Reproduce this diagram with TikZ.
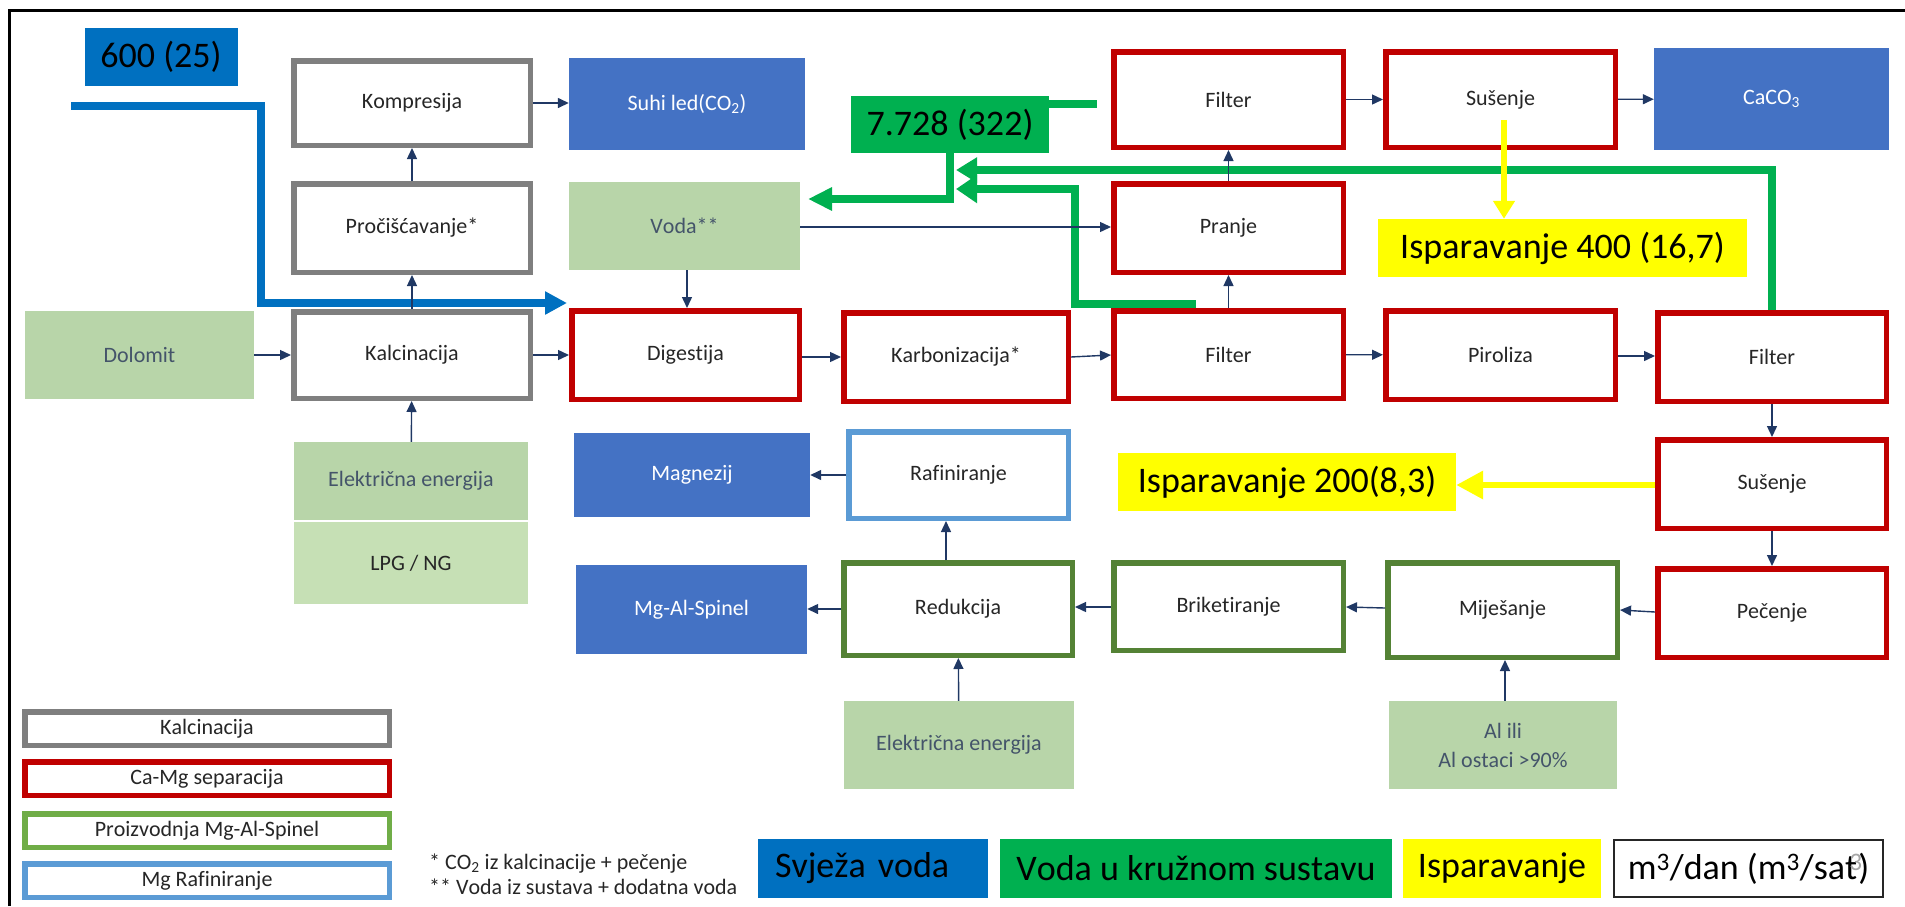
\documentclass[tikz,border=0pt]{standalone}
\usepackage{fontspec}
\setmainfont{Carlito}[Ligatures=NoCommon, Kerning=Off]
\usetikzlibrary{arrows.meta,calc}

\definecolor{cGray}{HTML}{7F7F7F}
\definecolor{cRed}{HTML}{C00000}
\definecolor{cOlive}{HTML}{548235}
\definecolor{cLeaf}{HTML}{70AD47}
\definecolor{cSky}{HTML}{5B9BD5}
\definecolor{cProd}{HTML}{4472C4}
\definecolor{cFeed}{HTML}{B8D5A9}
\definecolor{cFeedL}{HTML}{C6E0B5}
\definecolor{cFresh}{HTML}{0070C0}
\definecolor{cLoop}{HTML}{00B050}
\definecolor{cEvap}{HTML}{FFFF00}
\definecolor{cArrow}{HTML}{203864}
\definecolor{cTxt}{HTML}{262626}
\definecolor{cFeedTxt}{HTML}{44546A}

\tikzset{
  bx/.style 2 args={minimum width={(#1-5.5)*1pt}, minimum height={(#2-5.5)*1pt}},
  fb/.style 2 args={minimum width={#1*1pt}, minimum height={#2*1pt}},
  txt/.style={font=\fontsize{22}{26}\selectfont},
  big/.style={font=\fontsize{36}{40}\selectfont},
  stage/.style={draw, line width=5.5pt, fill=white, inner sep=2pt, align=center, text=cTxt, txt},
  kal/.style={stage, draw=cGray},
  casep/.style={stage, draw=cRed},
  spinel/.style={stage, draw=cOlive},
  raf/.style={stage, draw=cSky},
  product/.style={fill=cProd, text=white, inner sep=2pt, align=center, txt},
  feed/.style={fill=cFeed, text=cFeedTxt, inner sep=2pt, align=center, txt},
  qty/.style={inner sep=2pt, text=black, big},
  flow/.style={draw=cArrow, line width=1.4pt, -{Triangle[length=11pt,width=10pt]}},
  fresh/.style={draw=cFresh, line width=8pt},
  recirc/.style={draw=cLoop, line width=8pt},
  evap/.style={draw=cEvap, line width=6.5pt},
  keybox/.style={draw, line width=5.5pt, fill=white, inner sep=0pt, text=cTxt, txt, bx={370}{39}},
}

\begin{document}
\begin{tikzpicture}[x=1pt, y=-1pt]
\useasboundingbox (0,0) rectangle (1905,906);

% outer frame (top and left edges)
\draw[line width=3pt] (9,906) -- (9,10) -- (1905,10);

% ---------- process stages ----------
% calcination
\node[kal, bx={242}{90}] (komp) at (412,103) {Kompresija};
\node[kal, bx={242}{94}] (proc) at (412,228) {Pročišćavanje*};
\node[kal, bx={242}{92}] (kalc) at (412,355) {Kalcinacija};

% Ca-Mg separation
\node[casep, bx={233}{94}] (dig) at (685.5,355) {Digestija};
\node[casep, bx={230}{94}] (karb) at (956,357) {Karbonizacija*};
\node[casep, bx={235}{93}] (filt) at (1228.5,354.5) {Filter};
\node[casep, bx={235}{94}] (pran) at (1228.5,228) {Pranje};
\node[casep, bx={235}{101}] (filtb) at (1228.5,99.5) {Filter};
\node[casep, bx={235}{101}] (susa) at (1500.5,99.5) {Sušenje};
\node[casep, bx={235}{94}] (piro) at (1500.5,355) {Piroliza};
\node[casep, bx={234}{94}] (filtc) at (1772,357) {Filter};
\node[casep, bx={234}{94}] (susb) at (1772,484) {Sušenje};
\node[casep, bx={234}{94}] (pece) at (1772,613) {Pečenje};

% Mg-Al-spinel production
\node[spinel, bx={235}{100}] (mijes) at (1502.5,610) {Miješanje};
\node[spinel, bx={235}{93}] (brik) at (1228.5,606.5) {Briketiranje};
\node[spinel, bx={234}{98}] (redu) at (958,609) {Redukcija};

% Mg refining
\node[raf, bx={225}{92}] (rafi) at (958.5,475) {Rafiniranje};

% ---------- products ----------
\node[product, fb={236}{92}] (led) at (687,104) {Suhi led(CO\textsubscript{2})};
\node[product, fb={235}{102}] (caco) at (1771.5,99) {CaCO\textsubscript{3}};
\node[product, fb={236}{84}] (magn) at (692,475) {Magnezij};
\node[product, fb={231}{89}] (mgal) at (691.5,609.5) {Mg-Al-Spinel};

% ---------- inputs ----------
\node[feed, fb={229}{88}] (dolo) at (139.5,355) {Dolomit};
\node[feed, fb={234}{78}] (elea) at (411,481) {Električna energija};
\node[feed, fill=cFeedL, text=cTxt, fb={234}{82}] (lpg) at (411,563) {LPG / NG};
\node[feed, fb={231}{88}] (voda) at (684.5,226) {Voda**};
\node[feed, fb={230}{88}] (eleb) at (959,745) {Električna energija};
\node[feed, fb={228}{88}] (alil) at (1503,745) {Al ili\\[3pt]Al ostaci >90\%};

% ---------- water quantities ----------
\node[qty, fill=cFresh, fb={153}{58}] (qfresh) at (161,57) {600 (25)};
\node[qty, fill=cLoop, fb={198}{57}] (qloop) at (950,124.5) {7.728 (322)};
\node[qty, fill=cEvap, fb={369}{58}] (qeva) at (1562.5,248) {Isparavanje 400 (16,7)};
\node[qty, fill=cEvap, fb={338}{58}] (qevb) at (1287,482) {Isparavanje 200(8,3)};

% ---------- water streams ----------
\coordinate (fwin) at (71,106);
\coordinate (fwbend) at (261,106);
\coordinate (fwtip) at (567,303);
\draw[fresh, -{Triangle[length=22pt,width=22pt]}] (fwin) -- (fwbend) |- (fwtip);

\coordinate (rcout) at (808,199);
\draw[recirc, -{Triangle[length=24pt,width=22pt]}] (qloop.south) |- (rcout);
\coordinate (rcstub) at (1097,104);
\draw[recirc] (qloop.east |- rcstub) -- (rcstub);
\coordinate (rcina) at (956,170);
\draw[recirc, -{Triangle[length=21pt,width=24pt]}] (filtc.north) |- (rcina);
\coordinate (rcfil) at (1196,304);
\coordinate (rcbend) at (1075,304);
\coordinate (rcinb) at (956,189);
\draw[recirc, -{Triangle[length=21pt,width=27pt]}] (rcfil) -- (rcbend) |- (rcinb);

% ---------- process connectors ----------
\draw[flow] (komp.east |- 0,103) -- (led.west |- 0,103);
\draw[flow] (proc) -- (komp);
\draw[flow] (kalc) -- (proc);
\draw[flow] (dolo) -- (kalc);
\draw[flow] (elea) -- (kalc);
\draw[flow] (kalc) -- (dig);
\draw[flow] (voda.south -| 687,0) -- (dig.north -| 687,0);
\draw[flow] (voda.east |- 0,227) -- (pran.west |- 0,227);
\draw[flow] (dig.east |- 0,357) -- (karb.west |- 0,357);
\draw[flow] (karb.east |- 0,357) -- (filt.west |- 0,355);
\draw[flow] (filt) -- (pran);
\draw[flow] (pran) -- (filtb);
\draw[flow] (filtb) -- (susa);
\draw[flow] (susa) -- (caco);
\draw[flow] (filt) -- (piro);
\draw[flow] (piro.east |- 0,356) -- (filtc.west |- 0,356);
\draw[flow] (filtc) -- (susb);
\draw[flow] (susb) -- (pece);
\draw[flow] (pece.west |- 0,612) -- (mijes.east |- 0,610);
\draw[flow] (mijes.west |- 0,608) -- (brik.east |- 0,607);
\draw[flow] (brik.west |- 0,607) -- (redu.east |- 0,607);
\draw[flow] (redu.west |- 0,609) -- (mgal.east |- 0,609);
\draw[flow] (redu.north -| 946,0) -- (rafi.south -| 946,0);
\draw[flow] (rafi) -- (magn);
\draw[flow] (eleb) -- (redu);
\draw[flow] (alil.north -| 1505,0) -- (mijes.south -| 1505,0);

% ---------- evaporation ----------
\coordinate (evsrc) at (1504,120);
\draw[evap, -{Triangle[length=18pt,width=21pt]}] (evsrc) -- (qeva.north -| evsrc);
\draw[evap, -{Triangle[length=27pt,width=27pt]}] (susb.west |- 0,485) -- (qevb.east |- 0,485);

% ---------- legend ----------
\node[keybox, draw=cGray] (kkal) at (207,728.5) {Kalcinacija};
\node[keybox, draw=cRed] (ksep) at (207,778.5) {Ca-Mg separacija};
\node[keybox, draw=cLeaf] (kspi) at (207,830.5) {Proizvodnja Mg-Al-Spinel};
\node[keybox, draw=cSky] (kraf) at (207,880.5) {Mg Rafiniranje};

\node[anchor=west, align=left, inner sep=0pt, text=cTxt, font=\fontsize{22}{25}\selectfont] (notes) at (429,874.5)
  {* CO\textsubscript{2} iz kalcinacije + pečenje\\** Voda iz sustava + dodatna voda};

\node[qty, fill=cFresh, fb={230}{59}, text width=196pt, inner xsep=17pt, align=left] (kfresh) at (873,868.5) {Svježa voda};
\node[qty, fill=cLoop, fb={392}{59}] (kloop) at (1196,868.5) {Voda u kružnom sustavu};
\node[qty, fill=cEvap, fb={198}{59}] (keva) at (1502,868.5) {Isparavanje};
\node[qty, draw=black!85, line width=1.5pt, fb={269}{57}] (kunit) at (1748.5,868.5)
  {m\textsuperscript{3}/dan (m\textsuperscript{3}/sat\kern-0.22em{\color{black!35}\textsuperscript{3}}\kern-0.12em)};
\end{tikzpicture}
\end{document}
